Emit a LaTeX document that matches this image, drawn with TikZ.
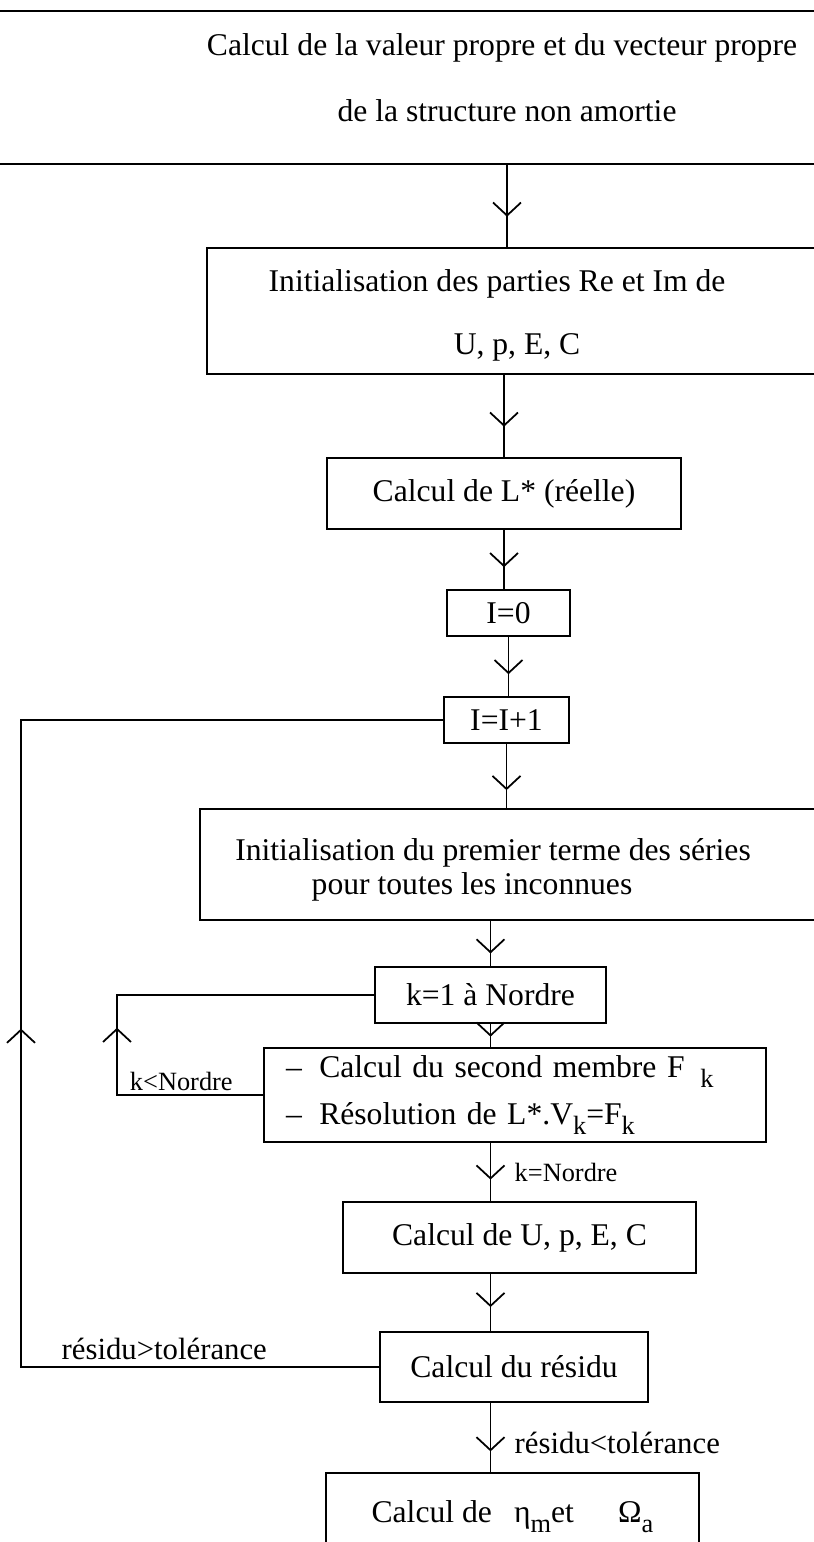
\documentclass[tikz,border=0pt]{standalone}
\usepackage{fontspec}
\setmainfont{Liberation Serif}
\usetikzlibrary{arrows.meta,decorations.markings}

\newcommand{\lowidx}[1]{\raisebox{-6pt}{\fontsize{15}{15}\selectfont #1}}

\begin{document}
\begin{tikzpicture}[x=0.02cm, y=-0.02cm, line width=1pt,
  >={Straight Barb[length=0.26cm, width=0.56cm]}]
  \tikzstyle{box}=[draw, rectangle, inner sep=0pt, font=\fontsize{18}{22}\selectfont]
  \tikzstyle{txt}=[inner sep=0pt, font=\fontsize{18}{22}\selectfont]
  \tikzstyle{lbl}=[font=\fontsize{17.5}{20}\selectfont]
  \tikzstyle{klbl}=[font=\fontsize{15}{18}\selectfont]
  \tikzset{flow/.style={postaction={decorate},
      decoration={markings, mark=at position #1 with {\arrow{>}}}},
    flow/.default=0.63}

  \useasboundingbox (0,0) rectangle (814,1542);

  % boites
  \node[box, minimum width=17.6cm, minimum height=3.06cm] (b1) at (410, 87.5) {};
  \node[txt] (t1a) at (502, 48)  {Calcul de la valeur propre et du vecteur propre};
  \node[txt] (t1b) at (507, 111) {de la structure non amortie};

  \node[box, minimum width=12.86cm, minimum height=2.52cm] (b2) at (528.5, 311) {};
  \node[txt] (t2a) at (497, 284) {Initialisation des parties Re et Im de};
  \node[txt] (t2b) at (517, 347) {U, p, E, C};

  \node[box, minimum width=7.08cm, minimum height=1.42cm] (b3) at (504, 493.5) {Calcul de L* (réelle)};
  \node[box, minimum width=2.46cm, minimum height=0.92cm] (b4) at (508.5, 613) {I=0};
  \node[box, minimum width=2.5cm,  minimum height=0.92cm] (b5) at (506.5, 720) {I=I+1};

  \node[box, minimum width=13cm, minimum height=2.22cm] (b6) at (525, 864.5) {};
  \node[txt] (t6a) at (493, 853) {Initialisation du premier terme des séries};
  \node[txt] (t6b) at (472, 887) {pour toutes les inconnues};

  \node[box, minimum width=4.62cm, minimum height=1.12cm] (b7) at (490.5, 995) {k=1 à Nordre};
  \node[box, minimum width=10.04cm, minimum height=1.88cm, align=left,
        text width=9.16cm, inner xsep=0.44cm, font=\fontsize{18}{26.6}\selectfont] (b8) at (515, 1095)
       {–\hspace{0.55em}Calcul du second membre F\hspace{0.5em}\lowidx{k}\\
        –\hspace{0.55em}Résolution de L*.V\lowidx{k}=F\lowidx{k}};
  \node[box, minimum width=7.06cm, minimum height=1.42cm] (b9) at (519.5, 1237.5) {Calcul de U, p, E, C};
  \node[box, minimum width=5.36cm, minimum height=1.4cm] (b10) at (514, 1367) {Calcul du résidu};
  \node[box, minimum width=7.46cm, minimum height=1.74cm] (b11) at (512.5, 1516.5)
       {Calcul de\hspace{0.7em}η\lowidx{m}et\hspace{1.4em}Ω\lowidx{a}};

  \coordinate (outer) at (21, 0);
  \coordinate (inner) at (117, 0);

  % fleches
  \draw[flow] (t1b |- b1.south) -- (t1b |- b2.north);
  \draw[flow] (b3.north |- b2.south) -- (b3.north);
  \draw[flow] (b3.south) -- (b3.south |- b4.north);
  \draw[flow] (b4.south) -- (b4.south |- b5.north);
  \draw[flow=0.72] (b5.south) -- (b5.south |- b6.north);
  \draw[flow=0.72] (b7.north |- b6.south) -- (b7.north);
  \draw[flow=0.55] (b7.south) -- (b7.south |- b8.north);
  \draw[flow] (b7 |- b8.south) -- node[klbl, right=0.35cm] {k=Nordre} (b7 |- b9.north);
  \draw[flow=0.58] (b7 |- b9.south) -- (b7 |- b10.north);
  \draw[flow=0.7] (b7 |- b10.south) -- node[lbl, pos=0.58, right=0.35cm] {résidu<tolérance} (b7 |- b11.north);

  % boucles
  \draw[flow=0.424] (b8.west) -| node[klbl, pos=0.28, above, inner sep=2pt] {k<Nordre} (inner |- b7.west) -- (b7.west);
  \draw[flow=0.488] (b10.west) -| node[lbl, pos=0.3, above] {résidu>tolérance} (outer |- b5.west) -- (b5.west);

\end{tikzpicture}
\end{document}
